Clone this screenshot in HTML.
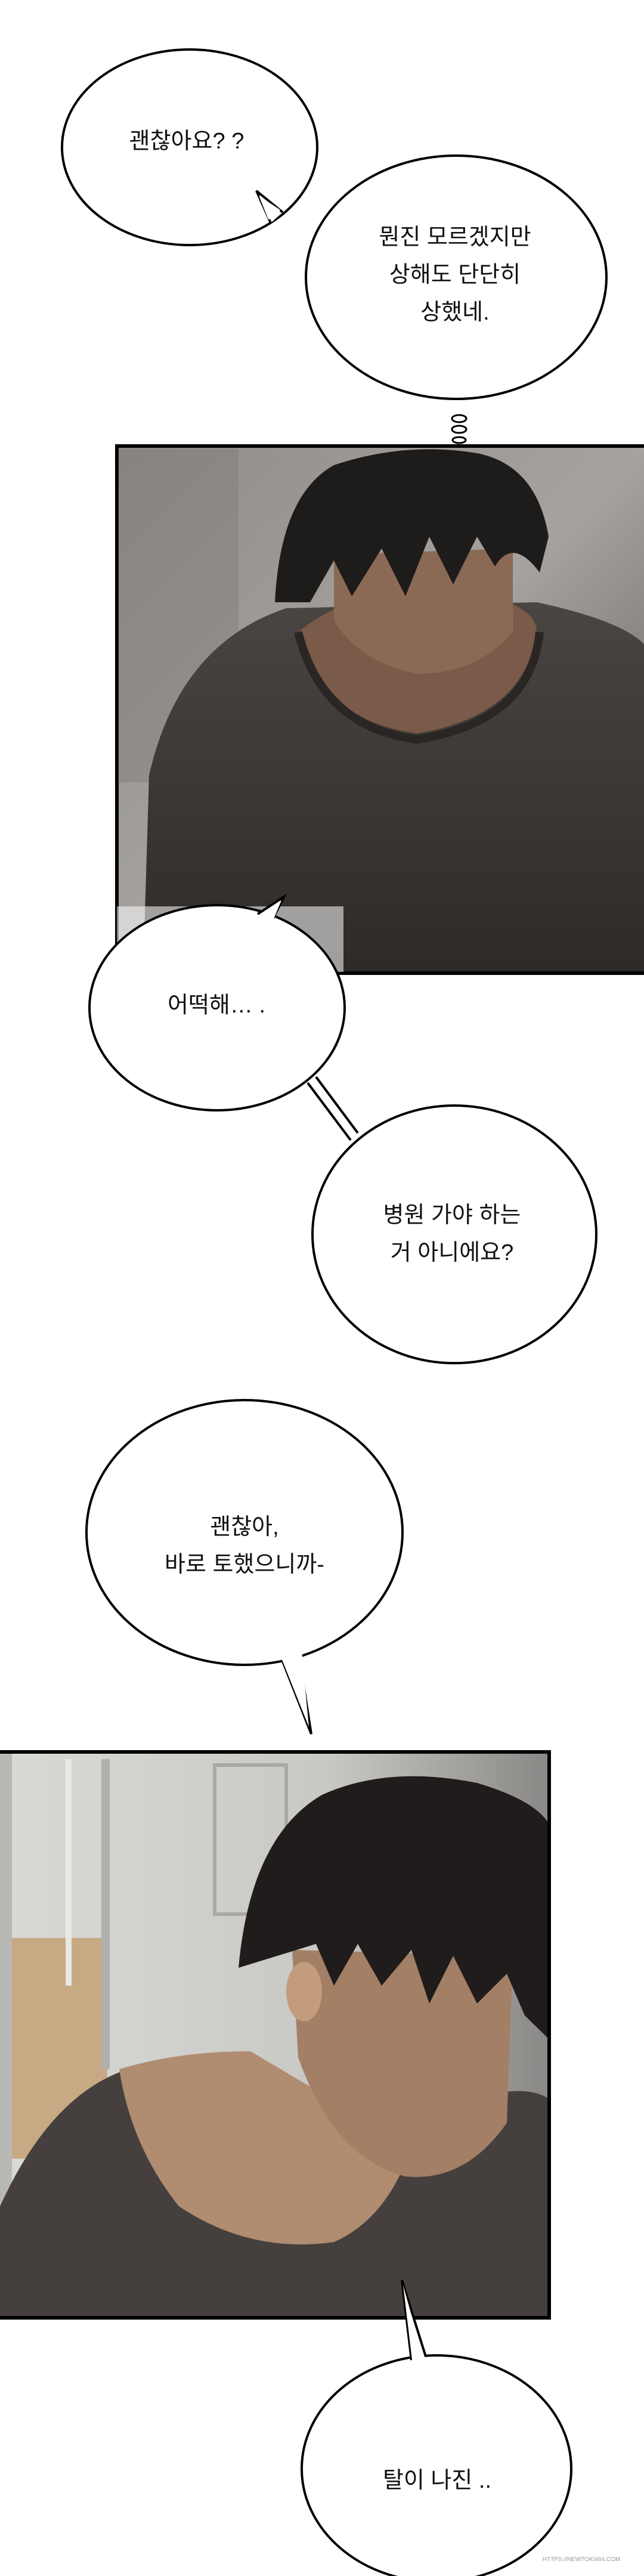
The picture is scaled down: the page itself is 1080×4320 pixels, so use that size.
<!DOCTYPE html>
<html><head><meta charset="utf-8"><style>
html,body{margin:0;padding:0;background:#fff}
svg{display:block}
text{font-family:"Liberation Sans","Noto Sans CJK KR",sans-serif;fill:#111;text-anchor:middle}
</style></head><body>
<svg width="1080" height="4320" viewBox="0 0 1080 4320" xmlns="http://www.w3.org/2000/svg">
<defs>
<linearGradient id="bg1" x1="0" y1="0" x2="1" y2="1">
<stop offset="0" stop-color="#8f8c89"/><stop offset="0.5" stop-color="#a5a29f"/><stop offset="1" stop-color="#5a5552"/>
</linearGradient>
<linearGradient id="bg2" x1="0" y1="0" x2="1" y2="0">
<stop offset="0" stop-color="#d9d9d5"/><stop offset="0.6" stop-color="#c8c8c4"/><stop offset="1" stop-color="#8a8886"/>
</linearGradient>
<linearGradient id="sh1" x1="0" y1="0" x2="0" y2="1">
<stop offset="0" stop-color="#4a4542"/><stop offset="1" stop-color="#2e2a28"/>
</linearGradient>
</defs>

<!-- Bubble 1 -->
<ellipse cx="318" cy="247" rx="214" ry="164" fill="#fff" stroke="#000" stroke-width="4"/>
<path d="M454 374 L430 320 L474 356" fill="#fff" stroke="#000" stroke-width="4"/>
<path d="M450 368 L434 328 L470 352 L462 366 Z" fill="#fff"/>
<text x="313" y="249" font-size="38">괜찮아요? ?</text>

<!-- Bubble 2 -->
<ellipse cx="765" cy="465" rx="252" ry="204" fill="#fff" stroke="#000" stroke-width="4"/>
<text x="763" y="410" font-size="38">뭔진 모르겠지만</text>
<text x="763" y="473" font-size="38">상해도 단단히</text>
<text x="763" y="536" font-size="38">상했네.</text>
<g fill="#fff" stroke="#000" stroke-width="3">
<ellipse cx="770" cy="702" rx="12" ry="6"/>
<ellipse cx="770" cy="720" rx="12" ry="6"/>
<ellipse cx="770" cy="738" rx="11" ry="5"/>
<ellipse cx="770" cy="756" rx="10" ry="5"/>
</g>

<!-- Panel 1 -->
<rect x="196" y="748" width="890" height="884" fill="url(#bg1)"/>
<rect x="200" y="752" width="200" height="560" fill="#7c7976" opacity="0.4"/>
<path d="M240 1632 L250 1300 Q300 1080 480 1020 L900 1010 Q1040 1040 1080 1080 L1080 1632 Z" fill="url(#sh1)"/>
<path d="M500 1060 Q560 1010 640 1000 L820 1000 Q900 1020 900 1060 Q880 1200 700 1230 Q540 1210 500 1060 Z" fill="#7a5a48"/>
<path d="M500 1060 Q540 1220 700 1240 Q890 1210 905 1060" fill="none" stroke="#2a2624" stroke-width="14"/>
<path d="M560 930 L860 920 L860 1060 Q800 1130 700 1130 Q600 1110 560 1040 Z" fill="#8b6a55"/>
<path d="M461 1010 Q470 830 560 780 Q680 740 800 760 Q900 780 920 900 L905 960 Q860 900 830 950 L800 900 L760 980 L720 900 L680 1000 L640 920 L590 1000 L560 940 L520 1010 Z" fill="#1e1c1b"/>
<rect x="196" y="748" width="890" height="884" fill="none" stroke="#000" stroke-width="6"/>
<rect x="196" y="1520" width="380" height="110" fill="#fff" opacity="0.55"/>

<!-- Bubble 3 -->
<ellipse cx="364" cy="1690" rx="214" ry="172" fill="#fff" stroke="#000" stroke-width="4"/>
<path d="M432 1533 L476 1504 L458 1540" fill="#fff" stroke="#000" stroke-width="4"/>
<path d="M430 1540 L472 1510 L456 1548 Z" fill="#fff"/>
<text x="363" y="1698" font-size="38">어떡해… .</text>

<!-- connector -->
<path d="M516 1816 L588 1912" stroke="#000" stroke-width="4" fill="none"/>
<path d="M530 1806 L600 1900" stroke="#000" stroke-width="4" fill="none"/>
<path d="M520 1812 L594 1908 L596 1902 L526 1808 Z" fill="#fff"/>

<!-- Bubble 4 -->
<ellipse cx="762" cy="2070" rx="238" ry="216" fill="#fff" stroke="#000" stroke-width="4"/>
<text x="758" y="2050" font-size="38">병원 가야 하는</text>
<text x="758" y="2113" font-size="38">거 아니에요?</text>

<!-- Bubble 5 -->
<ellipse cx="410" cy="2570" rx="265" ry="222" fill="#fff" stroke="#000" stroke-width="4"/>
<path d="M474 2786 L522 2908 L502 2780" fill="#fff" stroke="#000" stroke-width="4"/>
<path d="M470 2776 L518 2896 L506 2770 Z" fill="#fff"/>
<text x="410" y="2573" font-size="38">괜찮아,</text>
<text x="410" y="2636" font-size="38">바로 토했으니까-</text>

<!-- Panel 2 -->
<rect x="-10" y="2938" width="931" height="949" fill="url(#bg2)"/>
<rect x="0" y="3250" width="180" height="370" fill="#c7a984"/>
<rect x="0" y="2938" width="20" height="949" fill="#b8b8b4"/>
<rect x="110" y="2950" width="10" height="380" fill="#e8e8e4"/>
<rect x="170" y="2950" width="14" height="520" fill="#aeb0ac"/>
<rect x="360" y="2960" width="120" height="250" fill="none" stroke="#a8a8a4" stroke-width="6"/>
<path d="M0 3700 Q100 3480 260 3460 L700 3560 Q860 3480 921 3520 L921 3887 L0 3887 Z" fill="#45403e"/>
<path d="M200 3470 Q300 3440 420 3440 L690 3600 Q650 3720 560 3760 Q420 3780 300 3700 Q220 3600 200 3470 Z" fill="#b08c70"/>
<path d="M490 3270 L860 3280 L850 3560 Q780 3660 680 3650 Q560 3620 500 3450 Z" fill="#a37f65"/>
<ellipse cx="510" cy="3340" rx="30" ry="50" fill="#c29c7c"/>
<path d="M400 3300 Q420 3080 540 3010 Q650 2960 800 2990 Q900 3020 921 3060 L921 3420 L880 3380 L850 3310 L800 3360 L760 3280 L720 3360 L690 3270 L640 3330 L600 3260 L560 3330 L530 3260 Z" fill="#1f1c1b"/>
<rect x="-10" y="2938" width="931" height="949" fill="none" stroke="#000" stroke-width="6"/>

<!-- Bubble 6 -->
<ellipse cx="732" cy="4140" rx="226" ry="190" fill="#fff" stroke="#000" stroke-width="4"/>
<path d="M690 3958 L674 3824 L714 3952" fill="#fff" stroke="#000" stroke-width="4"/>
<path d="M692 3966 L676 3832 L712 3962 Z" fill="#fff"/>
<text x="733" y="4172" font-size="38">탈이 나진 ..</text>
<text x="975" y="4295" font-size="10" style="fill:#999">HTTPS://NEWTOKI464.COM</text>
</svg>
</body></html>
